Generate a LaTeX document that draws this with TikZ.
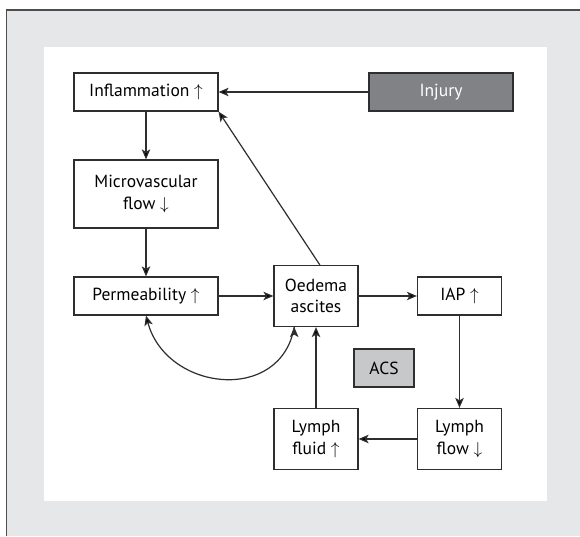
\documentclass[tikz,border=0pt]{standalone}
\usepackage{fontspec}
\setmainfont{PT Sans}
\usetikzlibrary{arrows.meta,positioning}
\definecolor{framegray}{HTML}{E6E7E8}
\definecolor{framerule}{HTML}{4D4D4F}
\definecolor{injurygray}{HTML}{808285}
\definecolor{acsgray}{HTML}{C7C8CA}
\definecolor{inkgray}{HTML}{2E2E2E}
\tikzset{>={Stealth[length=10pt,width=8.5pt,inset=2.5pt]},auto,node distance=102pt}
\tikzset{box/.style={draw=inkgray,line width=1.2pt,align=center,inner sep=0pt,
    minimum height=38pt,font=\fontsize{17.5}{21.5}\selectfont}}
\tikzset{widebox/.style={box,minimum width=144pt},
    smallbox/.style={box,minimum width=84pt}}

\begin{document}
\begin{tikzpicture}[x=1pt,y=1pt]
    \useasboundingbox (0,0) rectangle (580,536);
    % frame
    \fill[framegray] (6.7,0) rectangle (580,526);
    \draw[framerule,line width=1.2pt] (6.7,0) -- (6.7,526) -- (580,526);
    \fill[white] (44,35) rectangle (547,489);
    % boxes
    \node[widebox] (infl) at (146,444) {Inflammation $\uparrow$};
    \node[widebox,fill=injurygray,text=white] (injury) [right of=infl,node distance=295pt] {Injury};
    \node[widebox,minimum height=68pt] (micro) [below of=infl] {Microvascular\\flow $\downarrow$};
    \node[widebox] (perm) [below of=micro] {Permeability $\uparrow$};
    \node[smallbox,minimum height=61pt] (oed) [right of=perm,node distance=170pt] {Oedema\\ascites};
    \node[smallbox] (iap) [right of=oed,node distance=143.5pt] {IAP $\uparrow$};
    \node[smallbox,minimum height=61pt] (fluid) [below of=oed,node distance=143pt] {Lymph\\fluid $\uparrow$};
    \node[smallbox,minimum height=61pt] (lflow) [right of=fluid,node distance=143.5pt] {Lymph\\flow $\downarrow$};
    \node[box,minimum width=60pt,fill=acsgray] (acs) at (384,168) {ACS};
    % arrows
    \path[->,draw=inkgray,line width=1.2pt]
        (injury) edge (infl)
        (infl)   edge (micro)
        (micro)  edge (perm)
        (perm)   edge (oed)
        (oed)    edge (iap)
        (iap)    edge (lflow)
        (lflow)  edge (fluid)
        (fluid)  edge (oed)
        (oed.83) edge (infl.south east)
        (oed.235) edge[out=-100,in=-75,looseness=1.35] (perm.south);
\end{tikzpicture}
\end{document}
